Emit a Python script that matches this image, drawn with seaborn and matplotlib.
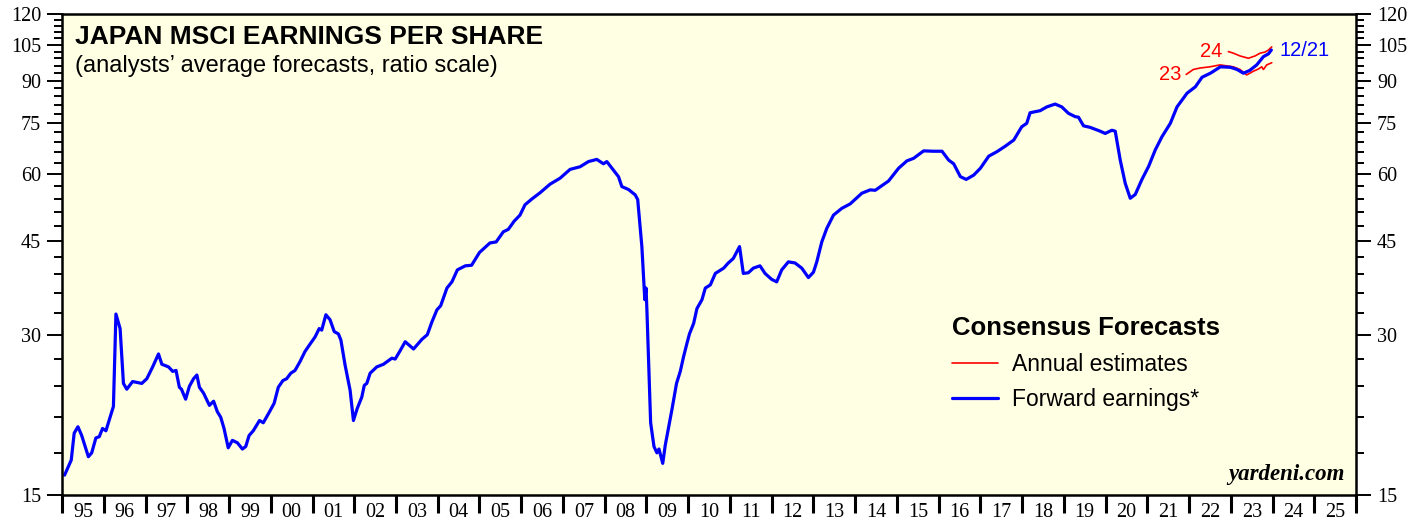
import matplotlib
matplotlib.use("Agg")
import matplotlib.pyplot as plt
import matplotlib.ticker as mticker
import numpy as np
import pandas as pd
import seaborn as sns

# ── Data (fractional year, EPS) ──────────────────────────────────────────────
fwd_dates = [
    1995.06, 1995.22, 1995.29, 1995.38, 1995.47, 1995.63, 1995.71, 1995.81, 1995.89, 1995.97,
    1996.05, 1996.23, 1996.29, 1996.39, 1996.47, 1996.55, 1996.69, 1996.91,
    1997.03, 1997.17, 1997.31, 1997.39, 1997.55, 1997.65, 1997.73, 1997.81, 1997.86, 1997.96,
    1998.05, 1998.15, 1998.23, 1998.29, 1998.39, 1998.53, 1998.63, 1998.72, 1998.80, 1998.88, 1998.98,
    1999.08, 1999.20, 1999.32, 1999.40, 1999.48, 1999.58, 1999.73, 1999.82, 1999.97,
    2000.08, 2000.18, 2000.29, 2000.38, 2000.48, 2000.58, 2000.70, 2000.82, 2000.94,
    2001.06, 2001.16, 2001.22, 2001.32, 2001.42, 2001.52, 2001.62, 2001.68, 2001.78, 2001.90, 2001.98,
    2002.07, 2002.18, 2002.24, 2002.30, 2002.38, 2002.54, 2002.70, 2002.90, 2002.98,
    2003.10, 2003.22, 2003.42, 2003.62, 2003.75, 2003.86, 2003.98,
    2004.07, 2004.22, 2004.34, 2004.47, 2004.66, 2004.81,
    2005.00, 2005.25, 2005.40, 2005.57, 2005.69, 2005.83, 2005.97,
    2006.09, 2006.25, 2006.45, 2006.69, 2006.93,
    2007.17, 2007.41, 2007.61, 2007.81, 2007.97,
    2008.05, 2008.21, 2008.33, 2008.41, 2008.57, 2008.73, 2008.79, 2008.89, 2008.96, 2008.99,
    2009.01, 2009.10, 2009.18, 2009.25, 2009.30, 2009.39, 2009.45, 2009.52, 2009.61, 2009.72,
    2009.81, 2009.89, 2009.97,
    2010.03, 2010.13, 2010.21, 2010.33, 2010.41, 2010.53, 2010.65, 2010.85, 2010.96,
    2011.08, 2011.23, 2011.32, 2011.44, 2011.56, 2011.72, 2011.84,
    2012.00, 2012.12, 2012.24, 2012.40, 2012.56, 2012.72, 2012.88,
    2013.00, 2013.08, 2013.20, 2013.32, 2013.48, 2013.68, 2013.88,
    2014.16, 2014.36, 2014.48, 2014.80,
    2015.04, 2015.24, 2015.40, 2015.64, 2015.88,
    2016.08, 2016.24, 2016.36, 2016.52, 2016.66, 2016.84,
    2017.00, 2017.20, 2017.40, 2017.60, 2017.80, 2017.99,
    2018.11, 2018.19, 2018.43, 2018.59, 2018.79, 2018.95,
    2019.11, 2019.27, 2019.35, 2019.47, 2019.63, 2019.87, 2019.99,
    2020.15, 2020.23, 2020.35, 2020.47, 2020.59, 2020.71, 2020.87,
    2021.03, 2021.19, 2021.35, 2021.55, 2021.71, 2021.95,
    2022.15, 2022.31, 2022.51, 2022.75, 2022.99,
    2023.15, 2023.30, 2023.45, 2023.62, 2023.78, 2023.90, 2023.97,
]
fwd_values = [
    16.35, 17.45, 19.6, 20.15, 19.4, 17.7, 18.0, 19.2, 19.3, 20.0,
    19.8, 22.0, 32.8, 30.8, 24.3, 23.7, 24.5, 24.3,
    24.8, 26.1, 27.6, 26.4, 26.1, 25.6, 25.7, 23.9, 23.7, 22.7,
    24.0, 24.8, 25.2, 23.9, 23.3, 22.1, 22.5, 21.5, 21.0, 20.0, 18.4,
    19.0, 18.8, 18.3, 18.5, 19.4, 19.8, 20.7, 20.5, 21.5,
    22.3, 23.9, 24.6, 24.8, 25.4, 25.7, 26.7, 27.9, 28.8,
    29.7, 30.8, 30.6, 32.7, 32.0, 30.4, 30.1, 29.3, 26.3, 23.6, 20.7,
    21.8, 22.9, 24.1, 24.3, 25.4, 26.1, 26.4, 27.1, 27.0,
    28.0, 29.1, 28.2, 29.4, 30.0, 31.7, 33.4,
    34.0, 36.7, 37.7, 39.7, 40.4, 40.5,
    42.8, 44.6, 44.8, 46.8, 47.3, 49.0, 50.3,
    52.6, 53.9, 55.4, 57.5, 59.0,
    61.3, 62.0, 63.4, 64.0, 62.8,
    63.4, 61.1, 59.4, 56.9, 56.2, 54.9, 53.8, 43.9, 34.9, 36.7,
    33.5, 20.5, 18.5, 18.0, 18.3, 17.2, 18.6, 19.9, 21.7, 24.3,
    25.6, 27.3, 28.9,
    30.1, 31.5, 33.6, 34.9, 36.7, 37.2, 39.1, 40.0, 40.9,
    41.7, 43.9, 39.1, 39.2, 40.0, 40.4, 39.1,
    38.1, 37.7, 39.7, 41.1, 40.9, 40.0, 38.4,
    39.3, 41.1, 44.8, 47.5, 50.3, 51.8, 52.8,
    55.3, 56.1, 56.0, 58.3,
    61.6, 63.6, 64.3, 66.4, 66.3,
    66.3, 63.8, 62.8, 59.4, 58.7, 59.8,
    61.6, 64.9, 66.2, 67.8, 69.6, 73.7,
    74.8, 78.3, 79.0, 80.3, 81.3, 80.3,
    78.1, 77.0, 76.8, 74.0, 73.5, 72.3, 71.6,
    72.6, 72.3, 63.8, 57.7, 54.1, 55.0, 58.7,
    62.1, 66.7, 70.6, 74.8, 80.3, 85.2,
    87.6, 91.3, 92.9, 95.5, 95.3,
    94.4, 92.9, 94.0, 96.3, 99.8, 101.0, 102.7,
]

est23_dates = [2021.93, 2022.10, 2022.26, 2022.50, 2022.74, 2023.06, 2023.22, 2023.38,
               2023.54, 2023.66, 2023.74, 2023.78, 2023.86, 2023.98]
est23_values = [92.4, 94.4, 95.0, 95.5, 96.3, 95.5, 94.4, 92.2,
                93.7, 94.6, 95.5, 94.4, 96.3, 97.2]

est24_dates = [2022.94, 2023.06, 2023.22, 2023.42, 2023.58, 2023.70, 2023.82, 2023.90, 2023.98]
est24_values = [102.0, 101.3, 100.1, 99.1, 100.1, 101.3, 101.8, 102.7, 104.1]

years = list(range(1995, 2027))
y_major = list(range(15, 121, 15))
y_minor = list(range(15, 121, 3))

BG = "#FFFFE3"
BLUE = "#0000FF"
RED = "#FF0000"

# ── Style ────────────────────────────────────────────────────────────────────
sns.set_style("ticks")
plt.rcParams["font.family"] = ["Liberation Sans", "DejaVu Sans"]
plt.rcParams["text.color"] = "black"
plt.rcParams["xtick.color"] = "black"
plt.rcParams["ytick.color"] = "black"
plt.rcParams["axes.labelcolor"] = "black"

fig = plt.figure(figsize=(14.27, 5.24), dpi=100)
ax = fig.add_axes([0.0435, 0.0553, 0.9068, 0.918])
ax.set_facecolor(BG)

fwd = pd.DataFrame({"date": fwd_dates, "eps": fwd_values})
e23 = pd.DataFrame({"date": est23_dates, "eps": est23_values})
e24 = pd.DataFrame({"date": est24_dates, "eps": est24_values})

sns.lineplot(data=e23, x="date", y="eps", ax=ax, color=RED, lw=1.2, sort=False)
sns.lineplot(data=e24, x="date", y="eps", ax=ax, color=RED, lw=1.2, sort=False,
             label="Annual estimates")
sns.lineplot(data=fwd, x="date", y="eps", ax=ax, color=BLUE, lw=2.3, sort=False,
             label="Forward earnings*")

# ── Axes ─────────────────────────────────────────────────────────────────────
ax.set_yscale("log")
ax.set_ylim(15, 120)
ax.set_xlim(years[0], years[-1])
ax.set_xlabel("")
ax.set_ylabel("")

ax.yaxis.set_major_locator(mticker.FixedLocator(y_major))
ax.yaxis.set_major_formatter(mticker.FixedFormatter([str(v) for v in y_major]))
ax.yaxis.set_minor_locator(mticker.FixedLocator(y_minor))
ax.yaxis.set_minor_formatter(mticker.NullFormatter())

ax.xaxis.set_major_locator(mticker.FixedLocator(years))
ax.xaxis.set_major_formatter(mticker.NullFormatter())
ax.xaxis.set_minor_locator(mticker.FixedLocator([y + 0.5 for y in years[:-1]]))
ax.xaxis.set_minor_formatter(mticker.FixedFormatter([f"{y % 100:02d}" for y in years[:-1]]))

serif = ["Liberation Serif", "DejaVu Serif"]
ax.tick_params(axis="y", which="both", left=True, right=True, labelleft=True, labelright=True,
               direction="out", width=1.4, labelsize=14.5, pad=4)
ax.tick_params(axis="y", which="major", length=11)
ax.tick_params(axis="y", which="minor", length=6)
ax.tick_params(axis="x", which="major", direction="out", length=13, width=2.2)
ax.tick_params(axis="x", which="minor", length=0, labelsize=14.5, pad=6)
for lab in ax.get_xticklabels(which="both") + ax.get_yticklabels(which="both"):
    lab.set_fontfamily(serif)
for side in ["top", "right", "bottom", "left"]:
    ax.spines[side].set_visible(True)
    ax.spines[side].set_linewidth(1.8)
    ax.spines[side].set_color("black")

# ── Annotations ──────────────────────────────────────────────────────────────
ax.text(0.010, 0.978, "JAPAN MSCI EARNINGS PER SHARE", transform=ax.transAxes,
        fontsize=19, fontweight="bold", va="top", ha="left")
ax.text(0.010, 0.915, "(analysts\u2019 average forecasts, ratio scale)", transform=ax.transAxes,
        fontsize=17, va="top", ha="left")

ax.text(est23_dates[0] - 0.12, est23_values[0], "23", color=RED, fontsize=14.5,
        ha="right", va="center")
ax.text(est24_dates[0] - 0.15, est24_values[0], "24", color=RED, fontsize=14.5,
        ha="right", va="center")
ax.text(fwd_dates[-1] + 0.2, fwd_values[-1], "12/21", color=BLUE, fontsize=14.5,
        ha="left", va="center")

ax.text(0.9915, 0.02, "yardeni.com", transform=ax.transAxes, fontsize=16.5,
        fontweight="bold", fontstyle="italic", family=serif, ha="right", va="bottom")

leg = ax.legend(loc="upper left", bbox_to_anchor=(0.672, 0.415), frameon=False,
                title="Consensus Forecasts", fontsize=16.5, handlelength=2.0,
                handletextpad=0.6, labelspacing=0.55, alignment="left")
leg.get_title().set_fontweight("bold")
leg.get_title().set_fontsize(18.5)

plt.savefig("out.png", dpi=100, facecolor="white")
plt.close()
